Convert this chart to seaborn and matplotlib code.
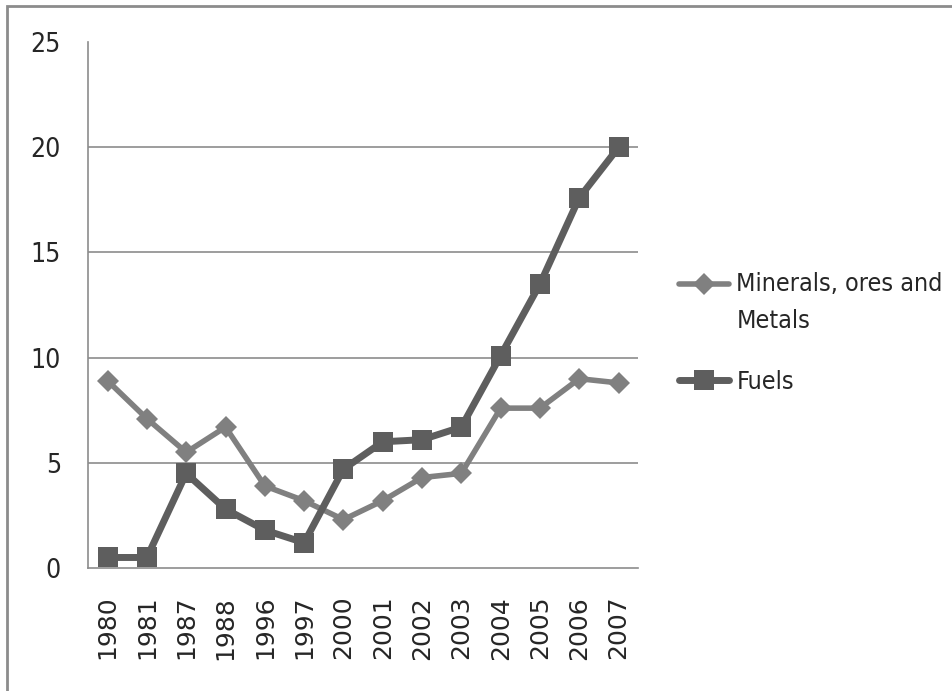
import matplotlib
matplotlib.use('Agg')
import matplotlib.pyplot as plt
import seaborn as sns
import pandas as pd
import numpy as np
from matplotlib.patches import Rectangle
from matplotlib.font_manager import FontProperties

years = ['1980', '1981', '1987', '1988', '1996', '1997', '2000',
         '2001', '2002', '2003', '2004', '2005', '2006', '2007']
minerals = [8.9, 7.1, 5.5, 6.7, 3.9, 3.2, 2.3, 3.2, 4.3, 4.5, 7.6, 7.6, 9.0, 8.8]
fuels = [0.5, 0.5, 4.5, 2.8, 1.8, 1.2, 4.7, 6.0, 6.1, 6.7, 10.1, 13.5, 17.6, 20.0]

df = pd.DataFrame({'year': years, 'Minerals': minerals, 'Fuels': fuels})

sns.set_style('white')
narrow_tick = FontProperties(family='DejaVu Sans', stretch='condensed', size=19)
narrow_leg = FontProperties(family='DejaVu Sans', stretch='condensed', size=18)

fig = plt.figure(figsize=(9.52, 6.91), dpi=100)
ax = fig.add_axes([0.0924, 0.178, 0.578, 0.761])

sns.lineplot(data=df, x='year', y='Minerals', ax=ax, color='#808080',
             linewidth=4, marker='D', markersize=11, markeredgewidth=0,
             label='Minerals, ores and\nMetals', sort=False)
sns.lineplot(data=df, x='year', y='Fuels', ax=ax, color='#5e5e5e',
             linewidth=5, marker='s', markersize=14.5, markeredgewidth=0,
             label='Fuels', sort=False)

ax.set_ylim(0, 25)
ax.set_xlim(-0.5, len(years) - 0.5)
ax.set_yticks([0, 5, 10, 15, 20, 25])
ax.set_yticklabels(['0', '5', '10', '15', '20', '25'], fontproperties=narrow_tick)
ax.set_xticks(range(len(years)))
ax.set_xticklabels(years, rotation=90, fontsize=18, family='DejaVu Sans')
ax.set_xticks([i - 0.5 for i in range(len(years) + 1)], minor=True)
ax.tick_params(axis='x', which='major', length=0, pad=20)
ax.tick_params(axis='x', which='minor', length=8, width=1.2, color='#8c8c8c', direction='out')
ax.tick_params(axis='y', length=8, width=1.2, color='#8c8c8c', direction='out', pad=11.5)
ax.set_xlabel('')
ax.set_ylabel('')

for y in [5, 10, 15, 20]:
    ax.axhline(y, color='#8c8c8c', linewidth=1.2, zorder=0)

for side in ['top', 'right']:
    ax.spines[side].set_visible(False)
for side in ['left', 'bottom']:
    ax.spines[side].set_color('#8c8c8c')
    ax.spines[side].set_linewidth(1.2)

leg = ax.legend(loc='upper left', bbox_to_anchor=(1.033, 0.605), frameon=False,
                prop=narrow_leg, handlelength=2.0,
                handletextpad=0.3, labelspacing=1.5)
for t in leg.get_texts():
    t.set_linespacing(1.65)
# put the first marker next to the first line of its two-line label
h = leg.legend_handles[0]
h.set_ydata(np.asarray(h.get_ydata()) + 14)

# outer frame of the original image
fig.patches.append(Rectangle((7 / 952, -0.5), 1.5, 1.5 - 6 / 691, transform=fig.transFigure,
                             fill=False, edgecolor='#8c8c8c', linewidth=2))

plt.savefig('out.png', dpi=100)
